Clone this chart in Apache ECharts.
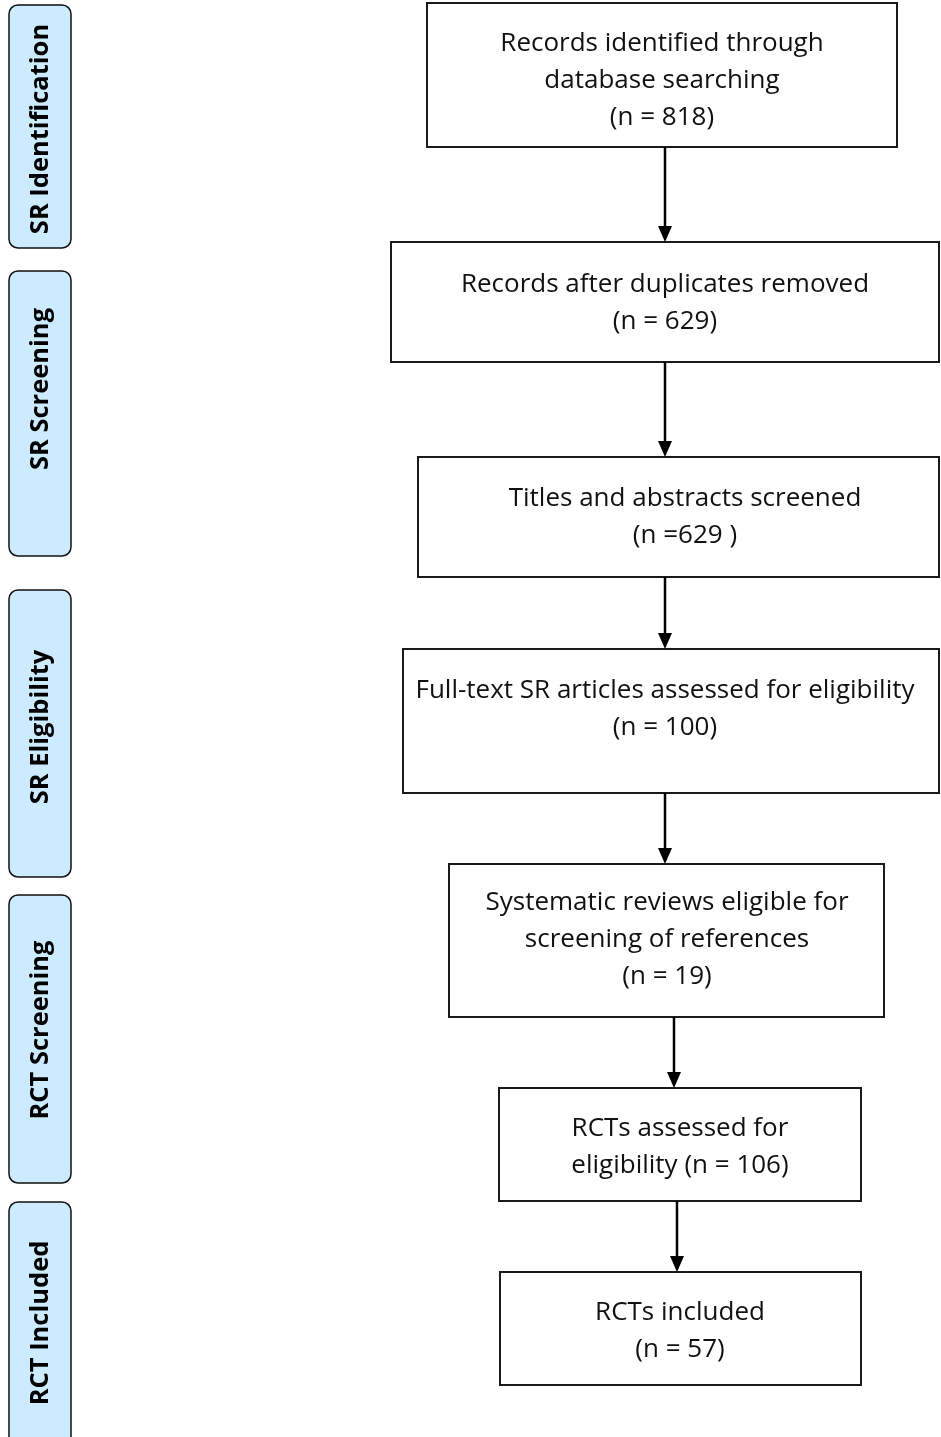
<!DOCTYPE html>
<html>
<head>
<meta charset="utf-8">
<title>Flow diagram</title>
<script src="https://cdn.jsdelivr.net/npm/echarts@6/dist/echarts.min.js"></script>
<style>
  html, body { margin: 0; padding: 0; background: #fff; }
  #chart { width: 941px; height: 1437px; }
</style>
</head>
<body>
<div id="chart"></div>
<script>
// data
const stages = ['SR Identification', 'SR Screening', 'SR Eligibility', 'RCT Screening', 'RCT Included']
const stepTitles = [
  'Records identified through\ndatabase searching',
  'Records after duplicates removed',
  'Titles and abstracts screened',
  'Full-text SR articles assessed for eligibility',
  'Systematic reviews eligible for\nscreening of references',
  'RCTs assessed for\neligibility',
  'RCTs included'
]
const stepCounts = [818, 629, 629, 100, 19, 106, 57]
const countFormats = ['\n(n = #)', '\n(n = #)', '\n(n =# )', '\n(n = #)', '\n(n = #)', ' (n = #)', '\n(n = #)']

// layout (page pixels)
const stageTop = [5, 271, 590, 895, 1202]
const stageBottom = [248, 556, 877, 1183, 1460]
const stageTextY = [129, 389, 727, 1030, 1323]
const boxLeft = [427, 391, 418, 403, 449, 499, 500]
const boxRight = [897, 939, 939, 939, 884, 861, 861]
const boxTop = [3, 242, 457, 649, 864, 1088, 1272]
const boxBottom = [147, 362, 577, 793, 1017, 1201, 1385]
const textX = [662, 665, 685, 665, 667, 680, 680]
const textY = [81, 303, 517, 709, 940, 1147, 1331]
const arrowX = [665, 665, 665, 665, 674, 677]

const FONT = '"Open Sans", Lato, sans-serif'

const stageData = stages.map((s, i) => [9, stageTop[i], 71, stageBottom[i], stageTextY[i], s])
const stepData = stepTitles.map((t, i) => [
  boxLeft[i], boxTop[i], boxRight[i], boxBottom[i], textX[i], textY[i],
  t + countFormats[i].replace('#', stepCounts[i])
])
const arrowData = arrowX.map((x, i) => [x, boxBottom[i], boxTop[i + 1]])

function renderStage(params, api) {
  const p0 = api.coord([api.value(0), api.value(1)])
  const p1 = api.coord([api.value(2), api.value(3)])
  const c = api.coord([(api.value(0) + api.value(2)) / 2, api.value(4)])
  return {
    type: 'group',
    children: [
      {
        type: 'rect',
        shape: { x: p0[0], y: p0[1], width: p1[0] - p0[0], height: p1[1] - p0[1], r: 9 },
        style: { fill: '#cdebff', stroke: '#111', lineWidth: 1.5 }
      },
      {
        type: 'text',
        x: c[0] + 1,
        y: c[1],
        rotation: Math.PI / 2,
        style: {
          text: stageData[params.dataIndex][5],
          font: 'bold 25.5px ' + FONT,
          fill: '#000',
          align: 'center',
          verticalAlign: 'middle'
        }
      }
    ]
  }
}

function renderStep(params, api) {
  const p0 = api.coord([api.value(0), api.value(1)])
  const p1 = api.coord([api.value(2), api.value(3)])
  const c = api.coord([api.value(4), api.value(5)])
  return {
    type: 'group',
    children: [
      {
        type: 'rect',
        shape: { x: p0[0], y: p0[1], width: p1[0] - p0[0], height: p1[1] - p0[1] },
        style: { fill: '#fff', stroke: '#1a1a1a', lineWidth: 2 }
      },
      {
        type: 'text',
        x: c[0],
        y: c[1],
        style: {
          text: stepData[params.dataIndex][6],
          font: '26px ' + FONT,
          lineHeight: 37,
          fill: '#111',
          align: 'center',
          verticalAlign: 'middle'
        }
      }
    ]
  }
}

function renderArrow(params, api) {
  const top = api.coord([api.value(0), api.value(1)])
  const tip = api.coord([api.value(0), api.value(2)])
  const head = 16
  return {
    type: 'group',
    children: [
      {
        type: 'line',
        shape: { x1: top[0], y1: top[1], x2: tip[0], y2: tip[1] - head + 1 },
        style: { stroke: '#000', lineWidth: 2.5 }
      },
      {
        type: 'polygon',
        shape: { points: [[tip[0] - 7, tip[1] - head], [tip[0] + 7, tip[1] - head], [tip[0], tip[1]]] },
        style: { fill: '#000' }
      }
    ]
  }
}

const chart = echarts.init(document.getElementById('chart'))
chart.setOption({
  animation: false,
  grid: { left: 0, right: 0, top: 0, bottom: 0 },
  xAxis: { type: 'value', min: 0, max: 941, show: false },
  yAxis: { type: 'value', min: 0, max: 1437, inverse: true, show: false },
  series: [
    { type: 'custom', renderItem: renderStage, data: stageData.map(d => d.slice(0, 5)), clip: true },
    { type: 'custom', renderItem: renderStep, data: stepData.map(d => d.slice(0, 6)), clip: true },
    { type: 'custom', renderItem: renderArrow, data: arrowData, clip: true }
  ]
})
</script>
</body>
</html>
